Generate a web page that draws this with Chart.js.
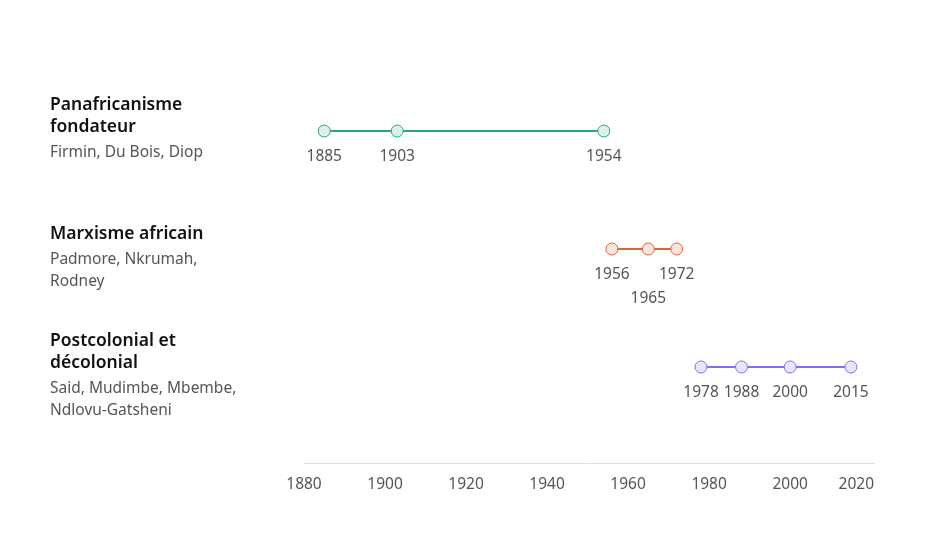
<!DOCTYPE html>
<html>
<head>
<meta charset="utf-8">
<script src="https://cdn.jsdelivr.net/npm/chart.js@4.4.1/dist/chart.umd.min.js"></script>
<style>
html,body{margin:0;padding:0;background:#fff;}
#wrap{width:941px;height:533px;position:relative;}
</style>
</head>
<body>
<div id="wrap"><canvas id="c"></canvas></div>
<script>
// ---- data ----
const groupTitles = [
  ["Panafricanisme", "fondateur"],
  ["Marxisme africain"],
  ["Postcolonial et", "décolonial"]
];
const groupAuthors = [
  ["Firmin, Du Bois, Diop"],
  ["Padmore, Nkrumah,", "Rodney"],
  ["Said, Mudimbe, Mbembe,", "Ndlovu-Gatsheni"]
];
const panafYears = [1885, 1903, 1954];
const marxYears = [1956, 1965, 1972];
const postYears = [1978, 1988, 2000, 2015];
const tickYears = [1880, 1900, 1920, 1940, 1960, 1980, 2000, 2020];

const seriesYears = [panafYears, marxYears, postYears];
const lineColors = ["#2ba57c", "#e0633f", "#7d72ee"];
const fillColors = ["#dcf2e9", "#fbe4dc", "#e8e6fc"];

const FONT = "'Noto Sans', 'Open Sans', sans-serif";

const datasets = seriesYears.map((ys, i) => ({
  data: ys.map(y => ({x: y, y: i})),
  borderColor: lineColors[i],
  backgroundColor: fillColors[i],
  pointBackgroundColor: fillColors[i],
  pointBorderColor: lineColors[i],
  pointBorderWidth: 1,
  pointRadius: 6,
  pointHoverRadius: 6,
  borderWidth: 2,
  showLine: true,
  tension: 0
}));

const labelPlugin = {
  id: 'labels',
  afterDatasetsDraw(chart) {
    const ctx = chart.ctx;
    ctx.save();
    ctx.font = "15.5px " + FONT;
    ctx.fillStyle = "#555";
    ctx.textAlign = "center";
    ctx.textBaseline = "middle";
    chart.data.datasets.forEach((ds, di) => {
      const meta = chart.getDatasetMeta(di);
      const placed = [];
      meta.data.forEach((pt, j) => {
        const txt = String(seriesYears[di][j]);
        const w = ctx.measureText(txt).width;
        let level = 0;
        while (placed.some(p => p.level === level && Math.abs(p.x - pt.x) < (p.w + w) / 2 + 3)) level++;
        placed.push({x: pt.x, w, level});
        ctx.fillText(txt, pt.x, pt.y + 26 + level * 24);
      });
    });
    ctx.restore();
  },
  afterDraw(chart) {
    const ctx = chart.ctx;
    const ys = chart.scales.y, xs = chart.scales.x;
    ctx.save();
    ctx.textAlign = "left";
    ctx.textBaseline = "middle";
    groupTitles.forEach((lines, i) => {
      const rowY = ys.getPixelForValue(i);
      const tc = rowY - 15;
      const top = tc - (lines.length - 1) * 22 / 2;
      ctx.font = "600 17.5px " + FONT;
      ctx.fillStyle = "#111";
      lines.forEach((l, k) => ctx.fillText(l, 50, top + k * 22));
      const subTop = top + (lines.length - 1) * 22 + 26;
      ctx.font = "15.5px " + FONT;
      ctx.fillStyle = "#555";
      groupAuthors[i].forEach((l, k) => ctx.fillText(l, 50, subTop + k * 22));
    });
    // x tick labels, clamped to axis extent
    ctx.font = "15.5px " + FONT;
    ctx.fillStyle = "#555";
    xs.ticks.forEach(t => {
      const txt = String(t.value);
      const w = ctx.measureText(txt).width;
      let x = xs.getPixelForValue(t.value) - w / 2;
      if (x + w > xs.right) x = xs.right - w;
      ctx.fillText(txt, x, xs.bottom + 22);
    });
    ctx.restore();
  }
};

new Chart(document.getElementById('c'), {
  type: 'scatter',
  data: {datasets},
  plugins: [labelPlugin],
  options: {
    responsive: true,
    maintainAspectRatio: false,
    animation: false,
    layout: {padding: {left: 304, right: 67, top: 72, bottom: 70}},
    plugins: {legend: {display: false}, tooltip: {enabled: false}},
    scales: {
      x: {
        type: 'linear',
        min: 1880,
        max: 2020.7,
        afterBuildTicks: s => { s.ticks = tickYears.map(v => ({value: v})); },
        grid: {display: false, drawTicks: false},
        border: {display: true, color: '#dddddd', width: 1},
        ticks: {display: false}
      },
      y: {
        type: 'linear',
        reverse: true,
        min: -0.5,
        max: 2.8136,
        display: false
      }
    }
  }
});
</script>
</body>
</html>
